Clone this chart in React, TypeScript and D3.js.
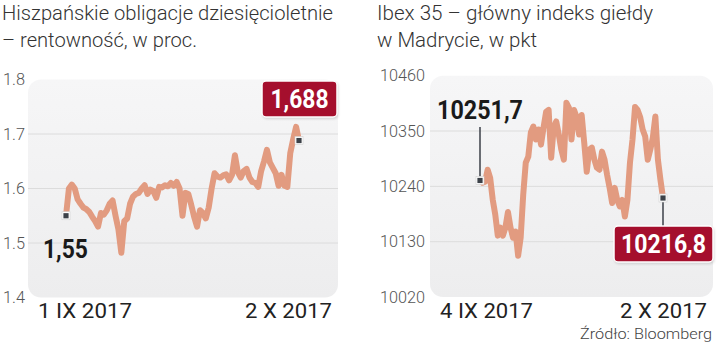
import React from "react";
import * as d3 from "d3";

const bondValues = [
  1.550, 1.600, 1.607, 1.600, 1.580, 1.572, 1.565, 1.562, 1.557, 1.548,
  1.540, 1.530, 1.555, 1.552, 1.560, 1.572, 1.578, 1.550, 1.525, 1.482,
  1.540, 1.545, 1.572, 1.585, 1.590, 1.592, 1.600, 1.606, 1.590, 1.598,
  1.595, 1.583, 1.603, 1.602, 1.606, 1.604, 1.610, 1.605, 1.612, 1.600,
  1.550, 1.592, 1.590, 1.570, 1.548, 1.530, 1.560, 1.555, 1.545, 1.565,
  1.600, 1.628, 1.622, 1.620, 1.624, 1.626, 1.615, 1.625, 1.661, 1.630,
  1.620, 1.632, 1.636, 1.620, 1.612, 1.610, 1.603, 1.632, 1.650, 1.671,
  1.648, 1.638, 1.628, 1.605, 1.625, 1.605, 1.603, 1.665, 1.690, 1.713,
  1.688,
];
const bondTicks = [1.4, 1.5, 1.6, 1.7, 1.8];
const bondDates = ["1 IX 2017", "2 X 2017"];
const bondTitle = ["Hiszpańskie obligacje dziesięcioletnie", "– rentowność, w proc."];
const bondFirstLabel = "1,55";
const bondLastLabel = "1,688";

const ibexValues = [
  10251.7, 10247, 10249, 10273, 10257, 10214, 10184, 10142, 10158, 10142,
  10158, 10189, 10158, 10138, 10150, 10102, 10138, 10223, 10287, 10299,
  10347, 10359, 10333, 10353, 10323, 10357, 10388, 10392, 10297, 10357,
  10369, 10343, 10313, 10293, 10406, 10396, 10333, 10392, 10378, 10343,
  10382, 10327, 10269, 10313, 10317, 10293, 10277, 10273, 10309, 10293,
  10263, 10237, 10207, 10237, 10213, 10200, 10213, 10180, 10213, 10287,
  10333, 10398, 10392, 10378, 10353, 10339, 10293, 10313, 10337, 10379,
  10293, 10253, 10216.8,
];
const ibexTicks = [10020, 10130, 10240, 10350, 10460];
const ibexDates = ["4 IX 2017", "2 X 2017"];
const ibexTitle = ["Ibex 35 – główny indeks giełdy", "w Madrycie, w pkt"];
const ibexFirstLabel = "10251,7";
const ibexLastLabel = "10216,8";
const sourceText = "Źródło: Bloomberg";

const LINE = "#e29b80";
const RED = "#a50f2d";
const FONT = "Roboto, 'Noto Sans', sans-serif";

function Marker({ x, y }: { x: number; y: number }) {
  return (
    <g>
      <rect x={x - 4} y={y - 4} width={8} height={8} fill="#fff" stroke="#cfcfcf" strokeWidth={0.6} />
      <rect x={x - 2.6} y={y - 2.6} width={5.2} height={5.2} fill="#3c4148" />
    </g>
  );
}

function RedBox({ cx, y, w, h, text, tw }: { cx: number; y: number; w: number; h: number; text: string; tw: number }) {
  return (
    <g>
      <rect x={cx - w / 2 + 1} y={y + 1.5} width={w} height={h} rx={4} fill="#000" opacity={0.18} filter="url(#blur)" />
      <rect x={cx - w / 2} y={y} width={w} height={h} rx={4} fill={RED} stroke="#fff" strokeWidth={1.5} />
      <text x={cx} y={y + 27} textAnchor="middle" fill="#fff" fontFamily={FONT} fontWeight={700} fontSize={25}
        textLength={tw} lengthAdjust="spacingAndGlyphs">{text}</text>
    </g>
  );
}

function Chart(props: {
  values: number[]; ticks: number[]; dates: string[]; title: string[];
  panel: { x0: number; x1: number; y0: number; y1: number };
  xr: [number, number]; tickX: number; tickFmt: (v: number) => string; tickW: number;
  titleX: number; titleW: [number, number]; dateW: [number, number];
}) {
  const { values, ticks, panel, xr } = props;
  const x = d3.scaleLinear().domain([0, values.length - 1]).range(xr);
  const y = d3.scaleLinear().domain([ticks[0], ticks[ticks.length - 1]]).range([panel.y1, panel.y0]);
  const line = d3.line<number>().x((_, i) => x(i)).y((d) => y(d)).curve(d3.curveLinear);
  return (
    <g>
      <text x={props.titleX} y={20} fill="#333" fontFamily={FONT} fontWeight={300} fontSize={21}
        textLength={props.titleW[0]} lengthAdjust="spacingAndGlyphs">{props.title[0]}</text>
      <text x={props.titleX} y={47} fill="#333" fontFamily={FONT} fontWeight={300} fontSize={21}
        textLength={props.titleW[1]} lengthAdjust="spacingAndGlyphs">{props.title[1]}</text>
      <rect x={panel.x0} y={panel.y0} width={panel.x1 - panel.x0} height={panel.y1 - panel.y0} rx={13} fill="url(#panelGrad)" />
      {ticks.slice(1, -1).map((t) => (
        <line key={t} x1={panel.x0} x2={panel.x1} y1={y(t)} y2={y(t)} stroke="#dcdcdc" strokeWidth={1} />
      ))}
      {ticks.map((t) => (
        <text key={"l" + t} x={props.tickX} y={y(t)} dy="0.36em" fill="#555" fontFamily={FONT} fontWeight={300} fontSize={16}
          textLength={props.tickW} lengthAdjust="spacingAndGlyphs">{props.tickFmt(t)}</text>
      ))}
      <path d={line(values) || ""} fill="none" stroke={LINE} strokeWidth={6} strokeLinejoin="round" strokeLinecap="round" />
      <text x={panel.x0 + 10} y={318} fill="#222" fontFamily={FONT} fontWeight={400} fontSize={21}
        textLength={props.dateW[0]} lengthAdjust="spacingAndGlyphs">{props.dates[0]}</text>
      <text x={panel.x1 - 6} y={318} textAnchor="end" fill="#222" fontFamily={FONT} fontWeight={400} fontSize={21}
        textLength={props.dateW[1]} lengthAdjust="spacingAndGlyphs">{props.dates[1]}</text>
    </g>
  );
}

export default function App() {
  const bPanel = { x0: 28, x1: 338, y0: 79.5, y1: 297.5 };
  const iPanel = { x0: 430, x1: 713, y0: 75.7, y1: 297 };
  const bx = d3.scaleLinear().domain([0, bondValues.length - 1]).range([66, 299]);
  const by = d3.scaleLinear().domain([1.4, 1.8]).range([bPanel.y1, bPanel.y0]);
  const ix = d3.scaleLinear().domain([0, ibexValues.length - 1]).range([480, 663]);
  const iy = d3.scaleLinear().domain([10020, 10460]).range([iPanel.y1, iPanel.y0]);
  const bFirst = { x: bx(0), y: by(bondValues[0]) };
  const bLast = { x: bx(bondValues.length - 1), y: by(bondValues[bondValues.length - 1]) };
  const iFirst = { x: ix(0), y: iy(ibexValues[0]) };
  const iLast = { x: ix(ibexValues.length - 1), y: iy(ibexValues[ibexValues.length - 1]) };
  return (
    <svg width={720} height={345} style={{ position: "absolute", left: 0, top: 0, background: "#fff" }}>
      <defs>
        <linearGradient id="panelGrad" x1="0" y1="0" x2="0" y2="1">
          <stop offset="0" stopColor="#f6f6f7" />
          <stop offset="1" stopColor="#ededee" />
        </linearGradient>
        <filter id="blur" x="-20%" y="-20%" width="140%" height="140%">
          <feGaussianBlur stdDeviation="1.5" />
        </filter>
      </defs>
      <rect width={720} height={345} fill="#fff" />
      <Chart values={bondValues} ticks={bondTicks} dates={bondDates} title={bondTitle} panel={bPanel}
        xr={[66, 299]} tickX={3} tickFmt={(v) => v.toFixed(1)} tickW={22}
        titleX={2} titleW={[331, 195]} dateW={[94, 87]} />
      <Chart values={ibexValues} ticks={ibexTicks} dates={ibexDates} title={ibexTitle} panel={iPanel}
        xr={[480, 663]} tickX={380} tickFmt={(v) => String(v)} tickW={45}
        titleX={377} titleW={[276, 160]} dateW={[93, 87]} />

      {/* left annotations */}
      <Marker x={bFirst.x} y={bFirst.y} />
      <text x={bFirst.x - 23} y={bFirst.y + 42} fill="#1a1a1a" fontFamily={FONT} fontWeight={700} fontSize={25}
        textLength={45} lengthAdjust="spacingAndGlyphs">{bondFirstLabel}</text>
      <Marker x={bLast.x} y={bLast.y} />
      <RedBox cx={bLast.x + 0.5} y={81} w={75} h={36} text={bondLastLabel} tw={58} />

      {/* right annotations */}
      <line x1={iFirst.x} x2={iFirst.x} y1={127} y2={iFirst.y - 4} stroke="#3c4148" strokeWidth={1.5} />
      <Marker x={iFirst.x} y={iFirst.y} />
      <text x={iFirst.x - 43} y={119} fill="#1a1a1a" fontFamily={FONT} fontWeight={700} fontSize={25}
        textLength={86} lengthAdjust="spacingAndGlyphs">{ibexFirstLabel}</text>
      <line x1={iLast.x} x2={iLast.x} y1={iLast.y + 4} y2={226} stroke="#3c4148" strokeWidth={1.5} />
      <Marker x={iLast.x} y={iLast.y} />
      <RedBox cx={663.5} y={226} w={99} h={36} text={ibexLastLabel} tw={85} />

      <text x={712} y={339} textAnchor="end" fill="#444" fontFamily={FONT} fontWeight={300} fontSize={15.5}
        textLength={132} lengthAdjust="spacingAndGlyphs">{sourceText}</text>
    </svg>
  );
}
